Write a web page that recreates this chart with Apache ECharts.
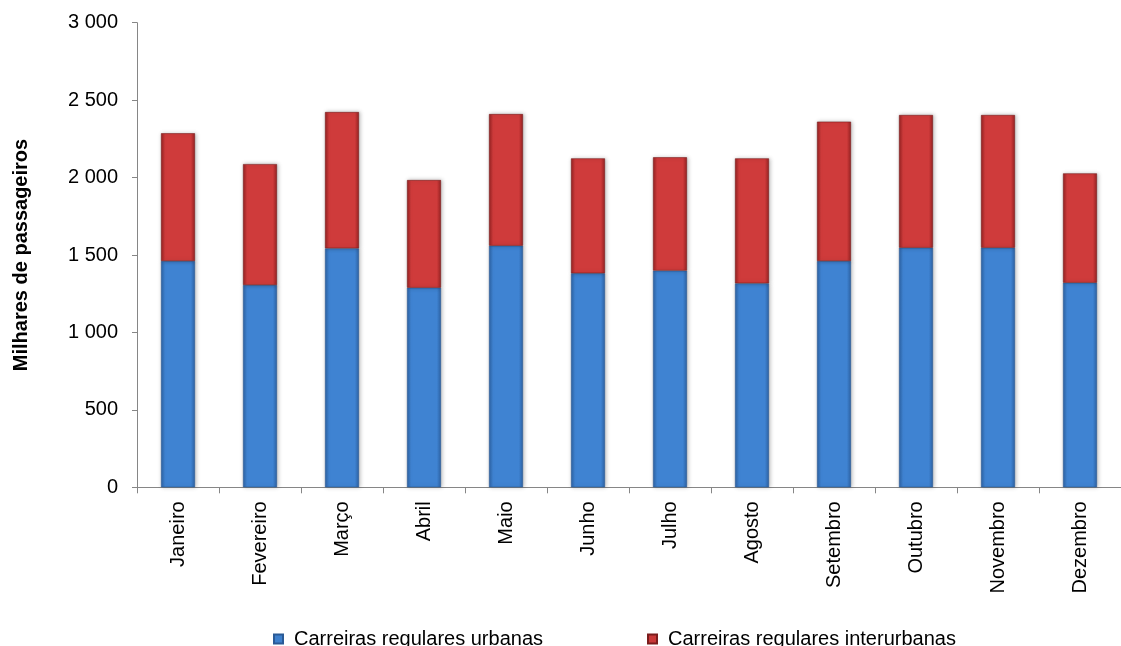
<!DOCTYPE html>
<html>
<head>
<meta charset="utf-8">
<script src="https://cdn.jsdelivr.net/npm/echarts@6/dist/echarts.min.js"></script>
<style>
html,body{margin:0;padding:0;background:#fff;}
#chart{width:1121px;height:646px;}
</style>
</head>
<body>
<div id="chart"></div>
<script>
const categories = ['Janeiro','Fevereiro','Março','Abril','Maio','Junho','Julho','Agosto','Setembro','Outubro','Novembro','Dezembro'];
const urbanas = [1461, 1306, 1543, 1289, 1560, 1382, 1399, 1317, 1461, 1547, 1547, 1321];
const interurbanas = [825, 781, 880, 695, 850, 742, 732, 807, 900, 857, 857, 706];
const seriesNames = ['Carreiras regulares urbanas', 'Carreiras regulares interurbanas'];
const yTitle = 'Milhares de passageiros';

const FONT = '"Liberation Sans", Arial, sans-serif';

function hgrad(edge, mid) {
  return new echarts.graphic.LinearGradient(0, 0, 1, 0, [
    {offset: 0, color: edge},
    {offset: 0.12, color: mid},
    {offset: 0.5, color: mid},
    {offset: 0.88, color: mid},
    {offset: 1, color: edge}
  ]);
}

const chart = echarts.init(document.getElementById('chart'), null, {renderer: 'canvas'});
chart.setOption({
  animation: false,
  backgroundColor: '#ffffff',
  grid: {left: 137, top: 22.7, width: 996, bottom: 158.7, containLabel: false},
  legend: {
    top: 624,
    left: 268,
    itemWidth: 9,
    itemHeight: 9,
    itemGap: 104,
    icon: 'rect',
    textStyle: {fontFamily: FONT, fontSize: 20, color: '#000', padding: [0, 0, 0, 6]},
    data: [
      {name: seriesNames[0], itemStyle: {color: '#3d7fcc'}},
      {name: seriesNames[1], itemStyle: {color: '#c93838'}}
    ]
  },
  xAxis: {
    type: 'category',
    data: categories,
    axisLine: {lineStyle: {color: '#868686', width: 1}},
    axisTick: {show: true, length: 6, lineStyle: {color: '#868686'}, alignWithLabel: false},
    axisLabel: {rotate: 90, margin: 14, fontFamily: FONT, fontSize: 20, color: '#000', interval: 0}
  },
  yAxis: {
    type: 'value',
    min: 0, max: 3000, interval: 500,
    name: yTitle,
    nameLocation: 'middle',
    nameGap: 106,
    nameRotate: 90,
    nameTextStyle: {fontFamily: FONT, fontSize: 20, fontWeight: 'bold', color: '#000'},
    axisLine: {show: true, lineStyle: {color: '#868686', width: 1}},
    axisTick: {show: true, length: 5, lineStyle: {color: '#868686'}},
    splitLine: {show: false},
    axisLabel: {
      margin: 19, fontFamily: FONT, fontSize: 20, color: '#000',
      formatter: v => String(v).replace(/\B(?=(\d{3})+(?!\d))/g, ' ')
    }
  },
  series: [
    {
      name: seriesNames[0], type: 'bar', stack: 'total', barWidth: 34,
      data: urbanas,
      itemStyle: {color: hgrad('#2d62a4', '#3f83d2'), borderColor: '#2a5a96', borderWidth: 0.6,
        shadowColor: 'rgba(0,0,0,0.25)', shadowBlur: 4, shadowOffsetX: 1}
    },
    {
      name: seriesNames[1], type: 'bar', stack: 'total', barWidth: 34,
      data: interurbanas,
      itemStyle: {color: hgrad('#962222', '#cf3b3b'), borderColor: '#7a1c1c', borderWidth: 0.6,
        shadowColor: 'rgba(0,0,0,0.25)', shadowBlur: 4, shadowOffsetX: 1}
    }
  ]
});
</script>
</body>
</html>
